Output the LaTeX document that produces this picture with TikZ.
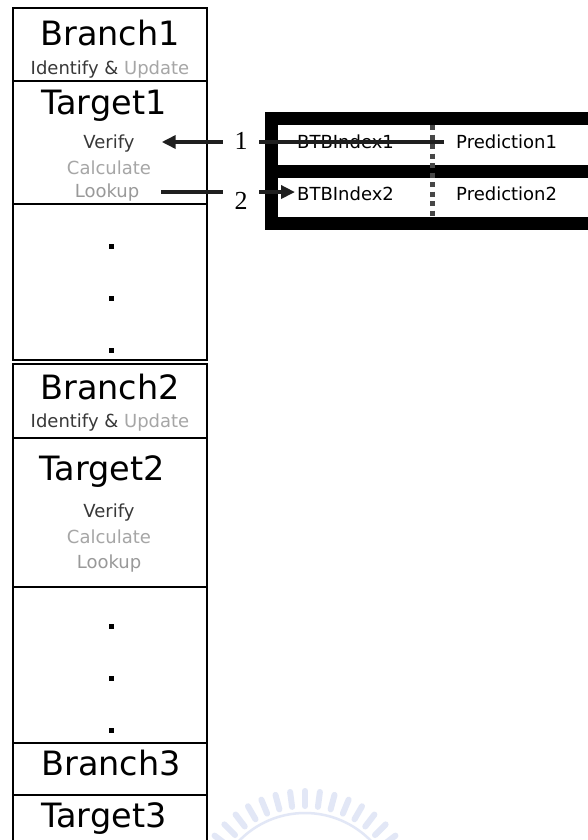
\documentclass[tikz,border=0pt]{standalone}
\usepackage{fontspec}
\newfontfamily\uifont{DejaVu Sans}
\newfontfamily\numfont{Liberation Serif}
\usetikzlibrary{arrows.meta,calc}

\definecolor{txtdark}{HTML}{383838}
\definecolor{txtlight}{HTML}{A6A6A6}
\definecolor{txtmid}{HTML}{999999}
\definecolor{sealblue}{HTML}{E2E7F6}

\tikzset{
  colbox/.style={draw=black, line width=1.4pt},
  rowline/.style={draw=black, line width=1.2pt},
  big/.style={font=\uifont\fontsize{33.5}{36}\selectfont, inner sep=0pt, anchor=base},
  small/.style={font=\uifont\fontsize{18}{20}\selectfont, inner sep=0pt, anchor=base},
  cell/.style={font=\uifont\fontsize{18}{20}\selectfont, inner sep=0pt, anchor=base west},
  vdot/.style={fill=black, minimum size=5pt, inner sep=0pt},
  arr/.style={line width=4pt, draw=black!88, -{Triangle[length=14pt,width=13pt]}},
  numlabel/.style={font=\numfont\fontsize{26}{28}\selectfont, fill=white, inner sep=0pt,
                   minimum width=36pt, minimum height=20pt},
}

\begin{document}
\begin{tikzpicture}[x=1pt, y=-1pt]
  \useasboundingbox (0,0) rectangle (587,840);
  \fill[white] (0,0) rectangle (587,840);

  % faint seal in the lower margin
  \begin{scope}
    \clip (0,0) rectangle (587,840);
    \foreach \a in {0,7.5,...,352.5}
      \draw[draw=sealblue, line width=6pt, line cap=round]
        ($(305,905)+(\a:99)$) -- ($(305,905)+(\a:114)$);
    \draw[draw=sealblue, line width=2.5pt] (305,905) circle[radius=92];
  \end{scope}

  % ---- left column of entries ----
  \draw[colbox] (13,8) rectangle (207,360);
  \draw[rowline] (13,81) -- (207,81);
  \draw[rowline] (13,204) -- (207,204);

  \draw[colbox] (13,364) rectangle (207,743);
  \draw[rowline] (13,438) -- (207,438);
  \draw[rowline] (13,587) -- (207,587);

  \draw[colbox] (13,743) rectangle (207,850);
  \draw[rowline] (13,795) -- (207,795);
  \draw[line width=2.6pt] (13,743) -- (207,743);

  % block 1
  \node[big] (branch1) at (110,46) {Branch1};
  \node[small] (iu1) at (110,75) {\textcolor{txtdark}{Identify \&} \textcolor{txtlight}{Update}};
  \node[big] (target1) at (104,114) {Target1};
  \node[small, text=txtdark] (verify1) at (109,149) {Verify};
  \node[small, text=txtlight] (calc1) at (109,174) {Calculate};
  \node[small, text=txtmid] (lookup1) at (107,197) {Lookup};
  \node[vdot] (d11) at (111,246) {};
  \node[vdot] (d12) at (111,298) {};
  \node[vdot] (d13) at (111,350) {};

  % block 2
  \node[big] (branch2) at (110,399) {Branch2};
  \node[small] (iu2) at (110,427) {\textcolor{txtdark}{Identify \&} \textcolor{txtlight}{Update}};
  \node[big] (target2) at (102,480) {Target2};
  \node[small, text=txtdark] (verify2) at (109,517) {Verify};
  \node[small, text=txtlight] (calc2) at (109,543) {Calculate};
  \node[small, text=txtmid] (lookup2) at (109,568) {Lookup};
  \node[vdot] (d21) at (111,626) {};
  \node[vdot] (d22) at (111,678) {};
  \node[vdot] (d23) at (111,730) {};

  % block 3
  \node[big] (branch3) at (111,775) {Branch3};
  \node[big] (target3) at (104,827) {Target3};

  % ---- BTB table ----
  \fill[black] (265,112) rectangle (600,230);
  \fill[white] (278,125) rectangle (600,165);
  \fill[white] (278,178) rectangle (600,217);
  \draw[line width=5pt, draw=black!72, dash pattern=on 5pt off 4.5pt] (432,125) -- (432,217);

  \node[cell] (btb1) at (297,148) {BTBIndex1};
  \node[cell] (pred1) at (456,148) {Prediction1};
  \node[cell] (btb2) at (297,200) {BTBIndex2};
  \node[cell] (pred2) at (456,200) {Prediction2};

  % ---- accesses ----
  \coordinate (a1) at (444,142);
  \draw[arr] (a1) -- ($(a1 -| verify1.east)+(27,0)$);
  \draw[arr] ($(lookup1.east)+(22,0)$) -- ($(lookup1.east -| btb2.west)+(-2,0)$);

  \node[numlabel] (one) at (241,141) {1};
  \node[numlabel, minimum height=24pt] (two) at (241,201) {2};
\end{tikzpicture}
\end{document}
